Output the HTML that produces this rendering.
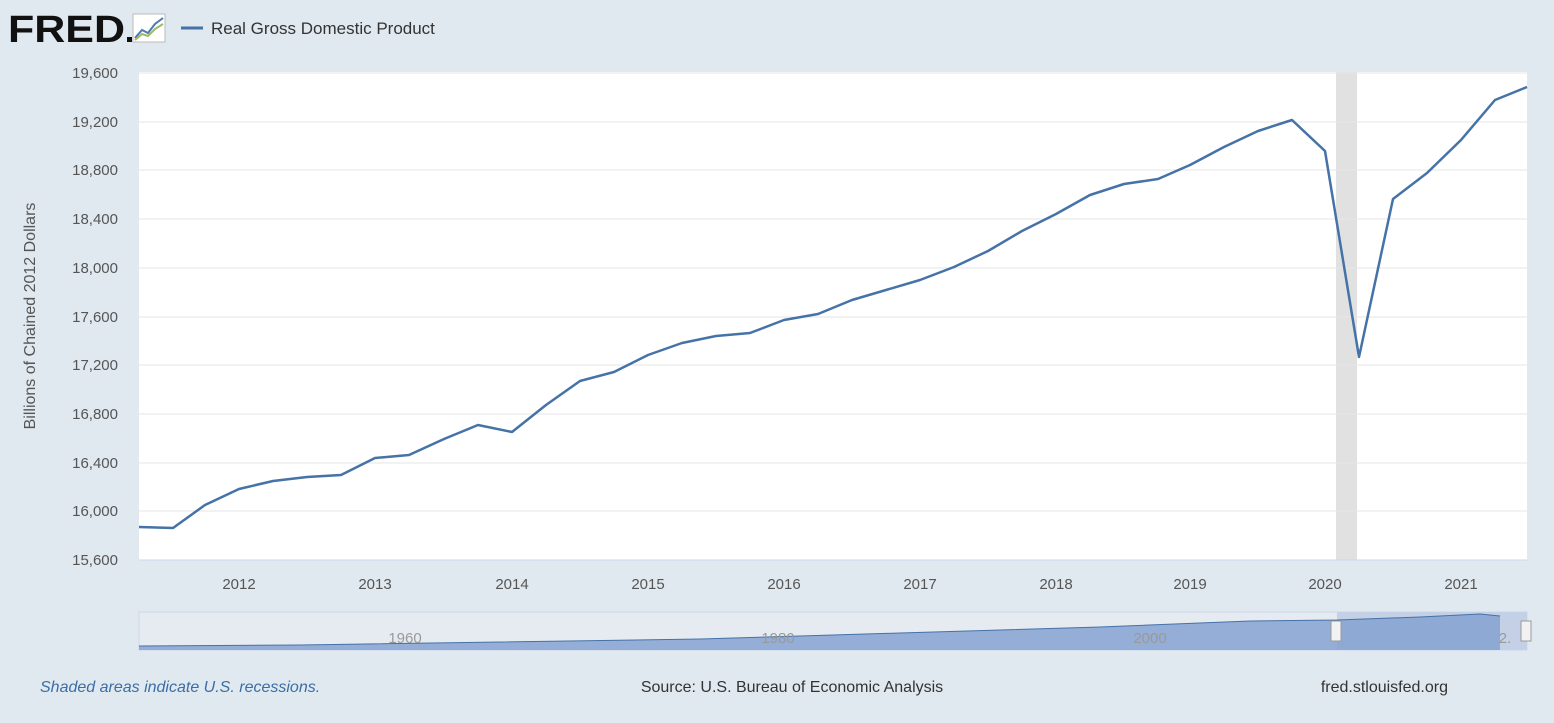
<!DOCTYPE html>
<html><head><meta charset="utf-8"><style>
body{margin:0;background:#e1e9f0;width:1554px;height:718px;overflow:hidden;font-family:"Liberation Sans",sans-serif}
</style></head><body>
<svg width="1554" height="718" xmlns="http://www.w3.org/2000/svg" font-family="Liberation Sans, sans-serif">
<rect width="1554" height="718" fill="#e1e9f0"/>
<text x="8" y="42" font-size="38" font-weight="bold" fill="#111" textLength="117" lengthAdjust="spacingAndGlyphs">FRED</text>
<rect x="127" y="37" width="5" height="5" fill="#111"/>
<rect x="133" y="14" width="32" height="28" fill="#fff" stroke="#bbb"/>
<polyline points="135,38 142,30 148,33 155,24 163,18" fill="none" stroke="#4a7ab0" stroke-width="2"/>
<polyline points="135,40 142,34 148,36 155,29 163,24" fill="none" stroke="#9cb86a" stroke-width="2"/>
<line x1="181" y1="28" x2="203" y2="28" stroke="#4572a7" stroke-width="3"/>
<text x="211" y="34" font-size="17" fill="#333">Real Gross Domestic Product</text>
<rect x="139" y="72" width="1388" height="488" fill="#fff"/>
<rect x="1336" y="72" width="21" height="488" fill="#e1e1e1"/>
<g stroke="#e6e6e6" stroke-width="1">
<line x1="139" x2="1527" y1="73" y2="73"/><line x1="139" x2="1527" y1="122" y2="122"/><line x1="139" x2="1527" y1="170" y2="170"/><line x1="139" x2="1527" y1="219" y2="219"/><line x1="139" x2="1527" y1="268" y2="268"/><line x1="139" x2="1527" y1="317" y2="317"/><line x1="139" x2="1527" y1="365" y2="365"/><line x1="139" x2="1527" y1="414" y2="414"/><line x1="139" x2="1527" y1="463" y2="463"/><line x1="139" x2="1527" y1="511" y2="511"/>
</g>
<line x1="139" x2="1527" y1="560" y2="560" stroke="#ccd6eb"/>
<g font-size="15" fill="#555" text-anchor="end">
<text x="118" y="78">19,600</text><text x="118" y="127">19,200</text><text x="118" y="175">18,800</text><text x="118" y="224">18,400</text><text x="118" y="273">18,000</text><text x="118" y="322">17,600</text><text x="118" y="370">17,200</text><text x="118" y="419">16,800</text><text x="118" y="468">16,400</text><text x="118" y="516">16,000</text><text x="118" y="565">15,600</text>
</g>
<text transform="translate(35,316) rotate(-90)" font-size="16" fill="#555" text-anchor="middle">Billions of Chained 2012 Dollars</text>
<g font-size="15" fill="#555" text-anchor="middle">
<text x="239" y="589">2012</text><text x="375" y="589">2013</text><text x="512" y="589">2014</text><text x="648" y="589">2015</text><text x="784" y="589">2016</text><text x="920" y="589">2017</text><text x="1056" y="589">2018</text><text x="1190" y="589">2019</text><text x="1325" y="589">2020</text><text x="1461" y="589">2021</text>
</g>
<polyline fill="none" stroke="#4572a7" stroke-width="2.5" stroke-linejoin="round" points="139,527 173,528 205,505 239,489 273,481 307,477 341,475 375,458 409,455 444,439 478,425 512,432 546,405 580,381 614,372 648,355 682,343 716,336 750,333 784,320 818,314 852,300 886,290 920,280 954,267 988,251 1022,231 1056,214 1090,195 1124,184 1158,179 1190,165 1224,147 1258,131 1292,120 1325,151 1359,357 1393,199 1427,173 1461,140 1495,100 1527,87"/>
<rect x="139" y="612" width="1388" height="38" fill="#e6ebf2" stroke="#ccd6eb"/>
<rect x="1337" y="612" width="190" height="38" fill="#c4d0e6"/>
<path d="M139,646 L300,645 L500,642 L700,639 L900,633 L1100,627 L1250,621 L1337,620 L1420,617 L1480,614 L1500,616 L1500,650 L139,650 Z" fill="#7f9fcf" opacity="0.8"/>
<polyline fill="none" stroke="#4572a7" stroke-width="1" points="139,646 300,645 500,642 700,639 900,633 1100,627 1250,621 1337,620 1420,617 1480,614 1500,616"/>
<g font-size="15" fill="#999" text-anchor="middle"><text x="405" y="643">1960</text><text x="778" y="643">1980</text><text x="1150" y="643">2000</text><text x="1505" y="643">2.</text></g>
<rect x="1331" y="621" width="10" height="20" fill="#f2f2f2" stroke="#999"/>
<rect x="1521" y="621" width="10" height="20" fill="#f2f2f2" stroke="#999"/>
<text x="40" y="692" font-size="16" font-style="italic" fill="#3b6ea5">Shaded areas indicate U.S. recessions.</text>
<text x="792" y="692" font-size="16" fill="#333" text-anchor="middle">Source: U.S. Bureau of Economic Analysis</text>
<text x="1448" y="692" font-size="16" fill="#333" text-anchor="end">fred.stlouisfed.org</text>
</svg>
</body></html>
